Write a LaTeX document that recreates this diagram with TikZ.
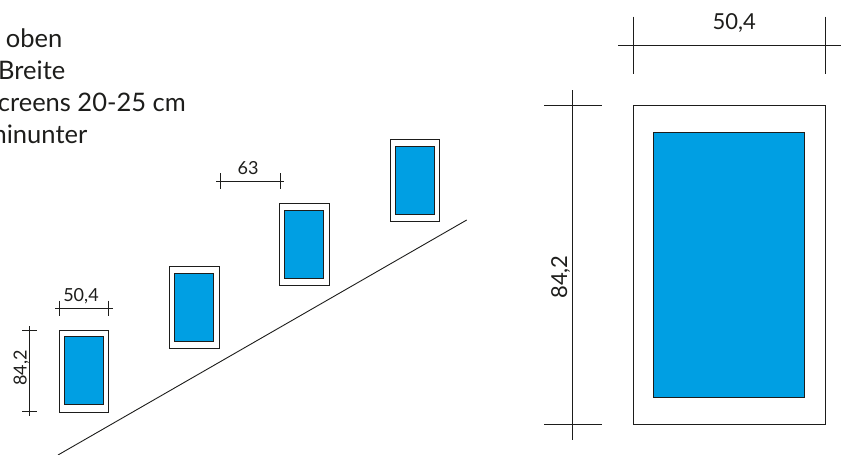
\documentclass[tikz,border=0pt]{standalone}
\usepackage{fontspec}
\setmainfont{Lato}
\definecolor{screenblue}{HTML}{009FE3}
\definecolor{inkline}{HTML}{1D1D1B}
\tikzset{
  frameS/.style={draw=inkline,line width=0.9pt,fill=white,minimum width=49.5pt,minimum height=82pt,inner sep=0pt,outer sep=0pt},
  screenS/.style={draw=inkline,line width=0.9pt,fill=screenblue,minimum width=39pt,minimum height=68pt,inner sep=0pt,outer sep=0pt},
  frameL/.style={draw=inkline,line width=0.9pt,fill=white,minimum width=192pt,minimum height=319pt,inner sep=0pt,outer sep=0pt},
  screenL/.style={draw=inkline,line width=0.9pt,fill=screenblue,minimum width=151pt,minimum height=265pt,inner sep=0pt,outer sep=0pt},
  dimline/.style={draw=inkline,line width=0.9pt},
  notetext/.style={anchor=base east,inner sep=0pt,font=\fontsize{25.5}{25.5}\selectfont,text=inkline},
  dimS/.style={anchor=base,inner sep=0pt,font=\fontsize{18}{18}\selectfont,text=inkline},
  dimL/.style={anchor=base,inner sep=0pt,font=\fontsize{22}{22}\selectfont,text=inkline},
}
\begin{document}
\begin{tikzpicture}[x=1pt,y=-1pt]
\useasboundingbox (0,0) rectangle (841,455);
% notes
\node[notetext] (n1) at (62.5,47) {oben};
\node[notetext] (n2) at (65.5,79) {Breite};
\node[notetext] (n3) at (186,111) {creens 20-25 cm};
\node[notetext] (n4) at (87.5,143) {hinunter};
% ground line
\coordinate (g1) at (58,455);
\coordinate (g2) at (466.7,220);
\draw[dimline] (g1) -- (g2);
% small frames
\node[frameS] (f1) at (83.7,371) {};
\node[screenS] (s1) at (83.7,370.7) {};
\node[frameS] (f2) at (194.2,307.3) {};
\node[screenS] (s2) at (194,307.3) {};
\node[frameS] (f3) at (304.4,244) {};
\node[screenS] (s3) at (304.4,244) {};
\node[frameS] (f4) at (414.9,180.7) {};
\node[screenS] (s4) at (414.5,180.7) {};
% small 50,4
\coordinate (a1) at (55,308); \coordinate (a2) at (112.7,308);
\coordinate (a3) at (59,300.7); \coordinate (a4) at (59,315.7);
\coordinate (a5) at (108.3,300.7); \coordinate (a6) at (108.3,315.7);
\draw[dimline] (a1) -- (a2);
\draw[dimline] (a3) -- (a4);
\draw[dimline] (a5) -- (a6);
\node[dimS] (ta) at (81,301.5) {50,4};
% small 84,2
\coordinate (b1) at (29.3,326); \coordinate (b2) at (29.3,415.7);
\coordinate (b3) at (22,330); \coordinate (b4) at (37.3,330);
\coordinate (b5) at (22,411.7); \coordinate (b6) at (37.3,411.7);
\draw[dimline] (b1) -- (b2);
\draw[dimline] (b3) -- (b4);
\draw[dimline] (b5) -- (b6);
\node[dimS,rotate=90] (tb) at (26.7,368) {84,2};
% 63
\coordinate (c1) at (216,181); \coordinate (c2) at (284,181);
\coordinate (c3) at (220.3,173); \coordinate (c4) at (220.3,188.7);
\coordinate (c5) at (280,173); \coordinate (c6) at (280,188.7);
\draw[dimline] (c1) -- (c2);
\draw[dimline] (c3) -- (c4);
\draw[dimline] (c5) -- (c6);
\node[dimS] (tc) at (248,174.5) {63};
% large frame
\node[frameL] (fL) at (729.5,265.2) {};
\node[screenL] (sL) at (729.2,264.8) {};
% large 50,4
\coordinate (d1) at (618,45.3); \coordinate (d2) at (841,45.3);
\coordinate (d3) at (633.3,16.7); \coordinate (d4) at (633.3,74);
\coordinate (d5) at (825.3,16.7); \coordinate (d6) at (825.3,74);
\draw[dimline] (d1) -- (d2);
\draw[dimline] (d3) -- (d4);
\draw[dimline] (d5) -- (d6);
\node[dimL] (td) at (734.3,29.5) {50,4};
% large 84,2
\coordinate (e1) at (572.7,90); \coordinate (e2) at (572.7,439.7);
\coordinate (e3) at (544,105.7); \coordinate (e4) at (602,105.7);
\coordinate (e5) at (544,424.7); \coordinate (e6) at (602,424.7);
\draw[dimline] (e1) -- (e2);
\draw[dimline] (e3) -- (e4);
\draw[dimline] (e5) -- (e6);
\node[dimL,rotate=90] (te) at (567,277) {84,2};
\end{tikzpicture}
\end{document}
